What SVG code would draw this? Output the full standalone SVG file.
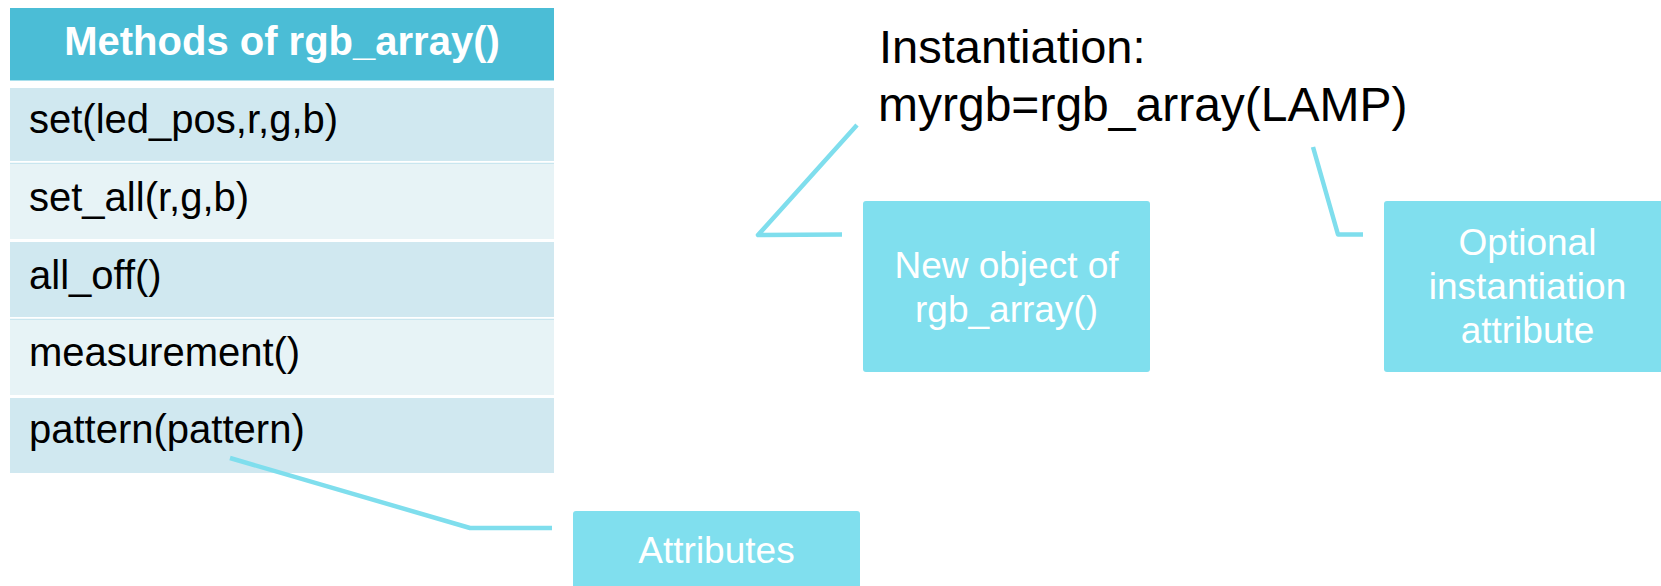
<svg xmlns="http://www.w3.org/2000/svg" width="1661" height="586" viewBox="0 0 1661 586">
  <style>
    .hdr { fill: #4bbdd6; }
    .rowA { fill: #d0e8f0; }
    .rowB { fill: #e7f3f6; }
    .sep { stroke: #c9e6ef; stroke-width: 1.5; }
    .hdrText { font-family: "Liberation Sans", Arial, sans-serif; font-size: 40px; font-weight: bold; fill: #ffffff; }
    .rowText { font-family: "Liberation Sans", Arial, sans-serif; font-size: 40px; fill: #000000; }
    .title { font-family: "Liberation Sans", Arial, sans-serif; font-size: 48px; fill: #000000; }
    .callout { fill: #80dfee; }
    .calloutText { font-family: "Liberation Sans", Arial, sans-serif; font-size: 37px; fill: #ffffff; text-anchor: middle; }
    .link { fill: none; stroke: #7fdeed; stroke-width: 4.5; stroke-linejoin: round; }
  </style>

  <rect width="1661" height="586" fill="#ffffff"/>

  <!-- method table -->
  <g id="methods-table">
    <rect class="hdr" x="10" y="8" width="544" height="72"/>
    <line x1="10" y1="80.5" x2="554" y2="80.5" stroke="#a9dfec" stroke-width="1"/>
    <text class="hdrText" x="282" y="55" text-anchor="middle">Methods of rgb_array()</text>

    <g id="row-set">
      <rect class="rowA" x="10" y="88" width="544" height="73"/>
      <text class="rowText" x="29" y="133">set(led_pos,r,g,b)</text>
    </g>
    <g id="row-set-all">
      <line class="sep" x1="10" y1="163.5" x2="554" y2="163.5"/>
      <rect class="rowB" x="10" y="164" width="544" height="75"/>
      <text class="rowText" x="29" y="211">set_all(r,g,b)</text>
    </g>
    <g id="row-all-off">
      <rect class="rowA" x="10" y="242" width="544" height="75"/>
      <text class="rowText" x="29" y="289">all_off()</text>
    </g>
    <g id="row-measurement">
      <line class="sep" x1="10" y1="319.5" x2="554" y2="319.5"/>
      <rect class="rowB" x="10" y="320" width="544" height="75"/>
      <text class="rowText" x="29" y="366">measurement()</text>
    </g>
    <g id="row-pattern">
      <rect class="rowA" x="10" y="398" width="544" height="75"/>
      <text class="rowText" x="29" y="443">pattern(pattern)</text>
    </g>
  </g>

  <!-- instantiation statement -->
  <g id="instantiation">
    <text class="title" x="879" y="63" style="font-size:47px">Instantiation:</text>
    <text class="title" x="878" y="121">myrgb=rgb_array(LAMP)</text>
  </g>

  <!-- callout boxes -->
  <g id="new-object">
    <rect class="callout" x="863" y="201" width="287" height="171" rx="3"/>
    <text class="calloutText" x="1006.5" y="278">New object of</text>
    <text class="calloutText" x="1006.5" y="322">rgb_array()</text>
  </g>

  <g id="optional-attribute">
    <rect class="callout" x="1384" y="201" width="287" height="171" rx="3"/>
    <text class="calloutText" x="1527.5" y="255">Optional</text>
    <text class="calloutText" x="1527.5" y="299">instantiation</text>
    <text class="calloutText" x="1527.5" y="343">attribute</text>
  </g>

  <g id="attributes">
    <rect class="callout" x="573" y="511" width="287" height="100" rx="3"/>
    <text class="calloutText" x="716.5" y="563">Attributes</text>
  </g>

  <!-- leader lines -->
  <g id="connectors">
    <polyline class="link" points="857,125 758,235 842,234.5"/>
    <polyline class="link" points="1313,147 1338,234.5 1363,234.5"/>
    <polyline class="link" points="230,458 470,528 552,528"/>
  </g>
</svg>
